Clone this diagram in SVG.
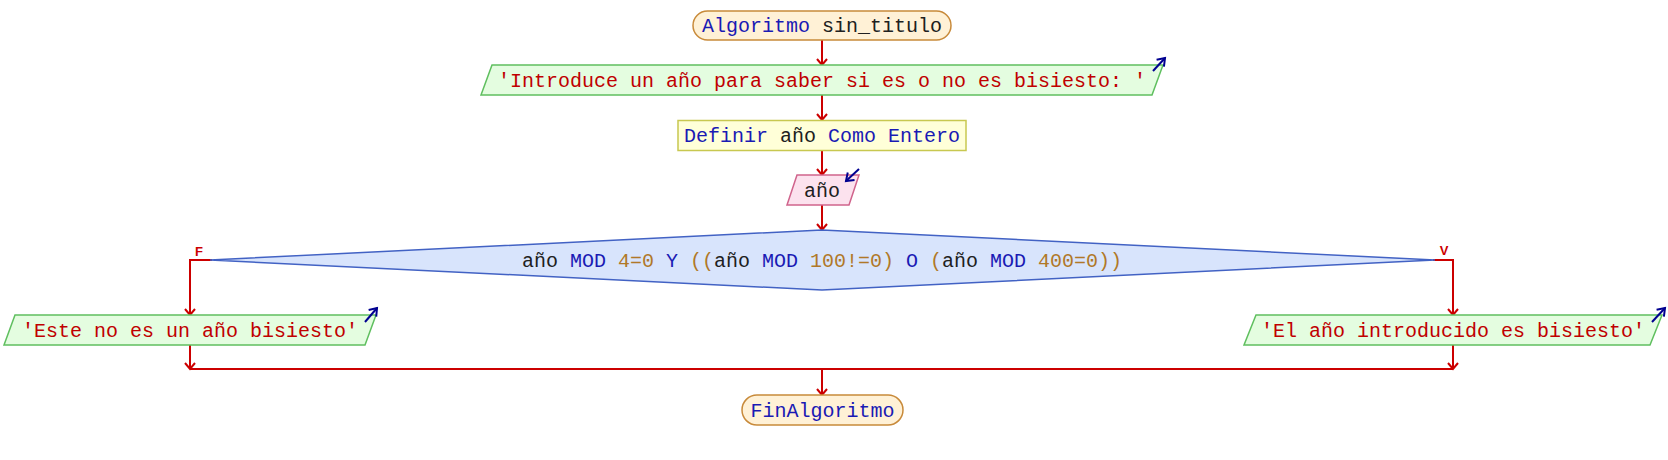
<svg xmlns="http://www.w3.org/2000/svg" width="1668" height="460" viewBox="0 0 1668 460">
<defs>
<marker id="ah" markerUnits="userSpaceOnUse" markerWidth="14" markerHeight="14" viewBox="-8 -7 10 14" refX="0" refY="0" orient="auto">
<path d="M-6,-5 L0,0 L-6,5" fill="none" stroke="#cc0000" stroke-width="2"/>
</marker>
<marker id="bh" markerUnits="userSpaceOnUse" markerWidth="14" markerHeight="14" viewBox="-8 -7 10 14" refX="0" refY="0" orient="auto">
<path d="M-7,-5 L0,0 L-7,5" fill="none" stroke="#000090" stroke-width="2"/>
</marker>
</defs>
<style>
text{font-family:"Liberation Mono","Courier New",monospace;font-size:20px;text-anchor:middle}
.kw{fill:#1a1ab4}.id{fill:#202020}.num{fill:#b07828}.str{fill:#c00000}
.term{fill:#fff1d6;stroke:#c88a3a;stroke-width:1.5}
.out{fill:#e4fde0;stroke:#5fbf5f;stroke-width:1.5}
.def{fill:#ffffd8;stroke:#c8c850;stroke-width:1.5}
.inp{fill:#fce2ee;stroke:#d0648c;stroke-width:1.5}
.dec{fill:#d8e4fc;stroke:#4262c4;stroke-width:1.5}
.c{fill:none;stroke:#cc0000;stroke-width:2}
.ca{fill:none;stroke:#cc0000;stroke-width:2;marker-end:url(#ah)}
.io{stroke:#000090;stroke-width:2;marker-end:url(#bh)}
.lbl{font-family:"Liberation Sans",Arial,sans-serif;font-weight:bold;font-size:13px;fill:#cc0000}
</style>
<g id="connectors">
<line class="ca" x1="822" y1="40" x2="822" y2="65"/>
<line class="ca" x1="822" y1="95" x2="822" y2="120"/>
<line class="ca" x1="822" y1="150" x2="822" y2="175"/>
<line class="ca" x1="822" y1="205" x2="822" y2="230"/>
<polyline class="ca" points="212,260 190,260 190,315"/>
<polyline class="ca" points="1433,260 1453,260 1453,315"/>
<line class="ca" x1="190" y1="345" x2="190" y2="369"/>
<line class="ca" x1="1453" y1="345" x2="1453" y2="369"/>
<line class="c" x1="190" y1="369" x2="1453" y2="369"/>
<line class="ca" x1="822" y1="369" x2="822" y2="395"/>
<text class="lbl" x="199" y="256">F</text>
<text class="lbl" x="1444" y="255">V</text>
</g>
<g id="start">
<rect class="term" x="693" y="11" width="258" height="29" rx="14.5"/>
<text x="822" y="32"><tspan class="kw">Algoritmo</tspan><tspan class="id"> sin_titulo</tspan></text>
</g>
<g id="out1">
<polygon class="out" points="492,65 1163,65 1152,95 481,95"/>
<line class="io" x1="1153" y1="71" x2="1165" y2="58"/>
<text class="str" x="822" y="87">'Introduce un año para saber si es o no es bisiesto: '</text>
</g>
<g id="define">
<rect class="def" x="678" y="120.5" width="288" height="30"/>
<text x="822" y="142"><tspan class="kw">Definir</tspan><tspan class="id"> año </tspan><tspan class="kw">Como Entero</tspan></text>
</g>
<g id="input">
<polygon class="inp" points="797,175 859,175 849,205 787,205"/>
<line class="io" x1="859" y1="169" x2="846" y2="181"/>
<text class="id" x="822" y="197">año</text>
</g>
<g id="decision">
<polygon class="dec" points="210,260 822,230 1435,260 822,290"/>
<text x="822" y="267"><tspan class="id">año </tspan><tspan class="kw">MOD</tspan><tspan class="num"> 4=0 </tspan><tspan class="kw">Y</tspan><tspan class="num"> ((</tspan><tspan class="id">año </tspan><tspan class="kw">MOD</tspan><tspan class="num"> 100!=0) </tspan><tspan class="kw">O</tspan><tspan class="num"> (</tspan><tspan class="id">año </tspan><tspan class="kw">MOD</tspan><tspan class="num"> 400=0))</tspan></text>
</g>
<g id="outF">
<polygon class="out" points="15,315 376,315 365,345 4,345"/>
<line class="io" x1="365" y1="322" x2="377" y2="308"/>
<text class="str" x="190" y="337">'Este no es un año bisiesto'</text>
</g>
<g id="outV">
<polygon class="out" points="1256,315 1662,315 1650,345 1244,345"/>
<line class="io" x1="1652" y1="322" x2="1665" y2="308"/>
<text class="str" x="1453" y="337">'El año introducido es bisiesto'</text>
</g>
<g id="end">
<rect class="term" x="742" y="395" width="161" height="30" rx="15"/>
<text class="kw" x="822.5" y="417">FinAlgoritmo</text>
</g>
</svg>
